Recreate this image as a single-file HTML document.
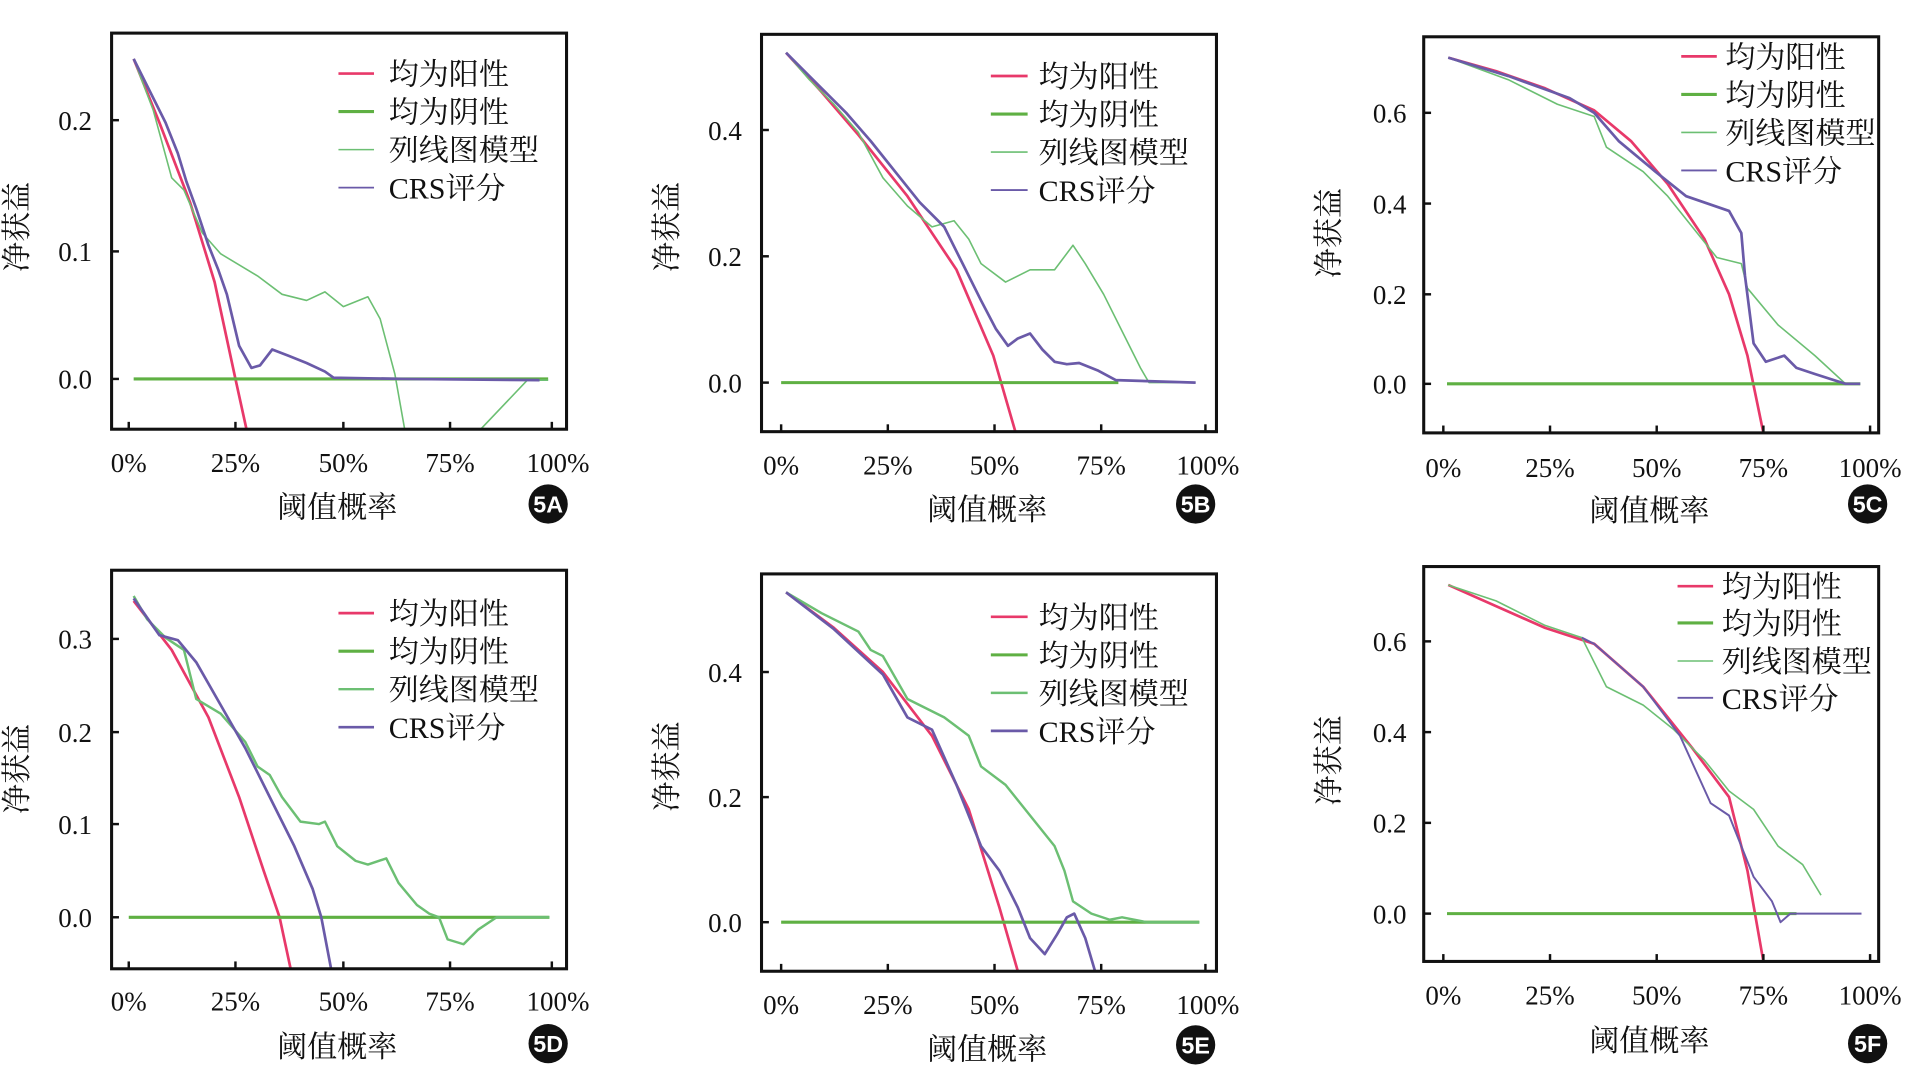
<!DOCTYPE html>
<html><head><meta charset="utf-8"><style>
html,body{margin:0;padding:0;background:#fff;}
svg{display:block;}
text{font-family:"Liberation Serif","Noto Serif CJK SC",serif;font-size:22px;fill:#111;}
.l{font-size:24.5px;}
.b{font-family:"Liberation Sans",sans-serif;font-size:19px;fill:#fff;font-weight:bold;}
.fr{fill:none;stroke:#111;stroke-width:2.5;}
.tk{stroke:#111;stroke-width:2;}
.r{fill:none;stroke:#e8396a;stroke-width:2.2;stroke-linejoin:round;}
.g{fill:none;stroke:#5fb043;stroke-width:2.5;}
.n{fill:none;stroke:#6cbf73;stroke-width:1.3;stroke-linejoin:round;}
.c{fill:none;stroke:#6a5aa8;stroke-width:2.2;stroke-linejoin:round;}
</style></head><body>
<svg width="1913" height="1081" viewBox="0 0 1560 881.5" preserveAspectRatio="none">
<defs>
<clipPath id="cA"><rect x="91" y="27" width="371" height="323"/></clipPath>
<clipPath id="cB"><rect x="621" y="28" width="371" height="324"/></clipPath>
<clipPath id="cC"><rect x="1161" y="30" width="371" height="323"/></clipPath>
<clipPath id="cD"><rect x="91" y="465" width="371" height="325"/></clipPath>
<clipPath id="cE"><rect x="621" y="468" width="371" height="324"/></clipPath>
<clipPath id="cF"><rect x="1161" y="462" width="371" height="322"/></clipPath>
</defs>

<!-- Panel A -->
<g clip-path="url(#cA)">
<polyline class="r" points="109,48 130,100 155,165 175,230 192,309 201,350"/>
<polyline class="g" points="109,309 447,309"/>
<polyline class="n" points="109,48 125,90 140,145 150,155 165,190 180,207 210,225 230,240 250,245 265,238 280,250 300,242 310,260 322,305 330,350"/>
<polyline class="n" points="392,350 430,310 447,310"/>
<polyline class="c" points="109,48 120,70 135,100 145,125 152,148 160,170 170,200 178,220 185,240 195,282 205,300 212,298 222,285 235,290 250,296 265,303 272,308 330,309 440,310"/>
</g>
<rect class="fr" x="91" y="27" width="371" height="323"/>
<g class="tk"><line x1="91" y1="98" x2="97" y2="98"/><line x1="91" y1="205" x2="97" y2="205"/><line x1="91" y1="309" x2="97" y2="309"/>
<line x1="105" y1="350" x2="105" y2="344"/><line x1="192" y1="350" x2="192" y2="344"/><line x1="280" y1="350" x2="280" y2="344"/><line x1="367" y1="350" x2="367" y2="344"/><line x1="450" y1="350" x2="450" y2="344"/></g>
<text x="75" y="106" text-anchor="end">0.2</text><text x="75" y="213" text-anchor="end">0.1</text><text x="75" y="317" text-anchor="end">0.0</text>
<text x="105" y="385" text-anchor="middle">0%</text><text x="192" y="385" text-anchor="middle">25%</text><text x="280" y="385" text-anchor="middle">50%</text><text x="367" y="385" text-anchor="middle">75%</text><text x="455" y="385" text-anchor="middle">100%</text>
<text class="l" x="275" y="422" text-anchor="middle">阈值概率</text>
<text class="l" transform="translate(22,185) rotate(-90)" text-anchor="middle">净获益</text>
<circle cx="447" cy="411" r="16" fill="#111"/><text class="b" x="447" y="418" text-anchor="middle">5A</text>
<line x1="276" y1="60" x2="305" y2="60" stroke="#e8396a" stroke-width="2.2"/><text class="l" x="317" y="69">均为阳性</text>
<line x1="276" y1="91" x2="305" y2="91" stroke="#5fb043" stroke-width="2.5"/><text class="l" x="317" y="100">均为阴性</text>
<line x1="276" y1="122" x2="305" y2="122" stroke="#6cbf73" stroke-width="1.3"/><text class="l" x="317" y="131">列线图模型</text>
<line x1="276" y1="153" x2="305" y2="153" stroke="#6a5aa8" stroke-width="1.5"/><text class="l" x="317" y="162">CRS评分</text>

<!-- Panel B -->
<g clip-path="url(#cB)">
<polyline class="r" points="641,43 670,75 700,110 740,160 780,220 810,290 828,352"/>
<polyline class="g" points="637,312 912,312"/>
<polyline class="n" points="641,43 660,65 680,85 700,108 720,145 740,168 760,185 778,180 790,195 800,215 820,230 840,220 860,220 875,200 885,215 900,240 915,270 930,300 937,312 975,312"/>
<polyline class="c" points="641,43 660,62 690,92 710,115 730,140 750,165 770,185 785,215 800,245 812,268 822,282 830,276 840,272 850,285 860,295 870,297 880,296 895,302 910,310 975,312"/>
</g>
<rect class="fr" x="621" y="28" width="371" height="324"/>
<g class="tk"><line x1="621" y1="106" x2="627" y2="106"/><line x1="621" y1="209" x2="627" y2="209"/><line x1="621" y1="312" x2="627" y2="312"/>
<line x1="637" y1="352" x2="637" y2="346"/><line x1="724" y1="352" x2="724" y2="346"/><line x1="811" y1="352" x2="811" y2="346"/><line x1="898" y1="352" x2="898" y2="346"/><line x1="983" y1="352" x2="983" y2="346"/></g>
<text x="605" y="114" text-anchor="end">0.4</text><text x="605" y="217" text-anchor="end">0.2</text><text x="605" y="320" text-anchor="end">0.0</text>
<text x="637" y="387" text-anchor="middle">0%</text><text x="724" y="387" text-anchor="middle">25%</text><text x="811" y="387" text-anchor="middle">50%</text><text x="898" y="387" text-anchor="middle">75%</text><text x="985" y="387" text-anchor="middle">100%</text>
<text class="l" x="805" y="424" text-anchor="middle">阈值概率</text>
<text class="l" transform="translate(552,185) rotate(-90)" text-anchor="middle">净获益</text>
<circle cx="975" cy="411" r="16" fill="#111"/><text class="b" x="975" y="418" text-anchor="middle">5B</text>
<line x1="808" y1="62" x2="838" y2="62" stroke="#e8396a" stroke-width="2.2"/><text class="l" x="847" y="71">均为阳性</text>
<line x1="808" y1="93" x2="838" y2="93" stroke="#5fb043" stroke-width="2.5"/><text class="l" x="847" y="102">均为阴性</text>
<line x1="808" y1="124" x2="838" y2="124" stroke="#6cbf73" stroke-width="1.3"/><text class="l" x="847" y="133">列线图模型</text>
<line x1="808" y1="155" x2="838" y2="155" stroke="#6a5aa8" stroke-width="1.5"/><text class="l" x="847" y="164">CRS评分</text>

<!-- Panel C -->
<g clip-path="url(#cC)">
<polyline class="r" points="1181,47 1220,58 1260,72 1300,90 1330,115 1360,150 1390,195 1410,240 1425,290 1438,353"/>
<polyline class="g" points="1180,313 1517,313"/>
<polyline class="n" points="1181,47 1230,65 1270,85 1300,95 1310,120 1340,140 1360,160 1380,185 1400,210 1420,215 1425,235 1450,265 1480,290 1505,313"/>
<polyline class="c" points="1181,47 1230,62 1280,80 1300,92 1320,115 1350,140 1375,160 1410,172 1420,190 1423,225 1430,280 1440,295 1455,290 1465,300 1480,305 1505,313 1517,313"/>
</g>
<rect class="fr" x="1161" y="30" width="371" height="323"/>
<g class="tk"><line x1="1161" y1="92" x2="1167" y2="92"/><line x1="1161" y1="166" x2="1167" y2="166"/><line x1="1161" y1="240" x2="1167" y2="240"/><line x1="1161" y1="313" x2="1167" y2="313"/>
<line x1="1177" y1="353" x2="1177" y2="347"/><line x1="1264" y1="353" x2="1264" y2="347"/><line x1="1351" y1="353" x2="1351" y2="347"/><line x1="1438" y1="353" x2="1438" y2="347"/><line x1="1525" y1="353" x2="1525" y2="347"/></g>
<text x="1147" y="100" text-anchor="end">0.6</text><text x="1147" y="174" text-anchor="end">0.4</text><text x="1147" y="248" text-anchor="end">0.2</text><text x="1147" y="321" text-anchor="end">0.0</text>
<text x="1177" y="389" text-anchor="middle">0%</text><text x="1264" y="389" text-anchor="middle">25%</text><text x="1351" y="389" text-anchor="middle">50%</text><text x="1438" y="389" text-anchor="middle">75%</text><text x="1525" y="389" text-anchor="middle">100%</text>
<text class="l" x="1345" y="425" text-anchor="middle">阈值概率</text>
<text class="l" transform="translate(1092,190) rotate(-90)" text-anchor="middle">净获益</text>
<circle cx="1523" cy="411" r="16" fill="#111"/><text class="b" x="1523" y="418" text-anchor="middle">5C</text>
<line x1="1371" y1="46" x2="1400" y2="46" stroke="#e8396a" stroke-width="2.2"/><text class="l" x="1407" y="55">均为阳性</text>
<line x1="1371" y1="77" x2="1400" y2="77" stroke="#5fb043" stroke-width="2.5"/><text class="l" x="1407" y="86">均为阴性</text>
<line x1="1371" y1="108" x2="1400" y2="108" stroke="#6cbf73" stroke-width="1.3"/><text class="l" x="1407" y="117">列线图模型</text>
<line x1="1371" y1="139" x2="1400" y2="139" stroke="#6a5aa8" stroke-width="1.5"/><text class="l" x="1407" y="148">CRS评分</text>

<!-- Panel D -->
<g clip-path="url(#cD)">
<polyline class="r" points="109,490 140,530 170,585 195,650 215,710 228,748 237,790"/>
<polyline class="g" points="105,748 448,748"/>
<polyline class="n" points="109,486 120,505 135,520 150,530 160,570 180,582 200,605 210,625 220,632 230,650 245,670 260,672 265,670 275,690 290,702 300,705 315,700 325,720 340,738 350,745 358,748 365,766 378,770 390,758 405,748 448,748" style="stroke-width:2"/>
<polyline class="c" points="109,488 130,518 145,522 160,540 180,575 200,610 220,650 240,690 255,725 262,748 270,790"/>
</g>
<rect class="fr" x="91" y="465" width="371" height="325"/>
<g class="tk"><line x1="91" y1="521" x2="97" y2="521"/><line x1="91" y1="597" x2="97" y2="597"/><line x1="91" y1="672" x2="97" y2="672"/><line x1="91" y1="748" x2="97" y2="748"/>
<line x1="105" y1="790" x2="105" y2="784"/><line x1="192" y1="790" x2="192" y2="784"/><line x1="280" y1="790" x2="280" y2="784"/><line x1="367" y1="790" x2="367" y2="784"/><line x1="450" y1="790" x2="450" y2="784"/></g>
<text x="75" y="529" text-anchor="end">0.3</text><text x="75" y="605" text-anchor="end">0.2</text><text x="75" y="680" text-anchor="end">0.1</text><text x="75" y="756" text-anchor="end">0.0</text>
<text x="105" y="824" text-anchor="middle">0%</text><text x="192" y="824" text-anchor="middle">25%</text><text x="280" y="824" text-anchor="middle">50%</text><text x="367" y="824" text-anchor="middle">75%</text><text x="455" y="824" text-anchor="middle">100%</text>
<text class="l" x="275" y="862" text-anchor="middle">阈值概率</text>
<text class="l" transform="translate(22,627) rotate(-90)" text-anchor="middle">净获益</text>
<circle cx="447" cy="851" r="16" fill="#111"/><text class="b" x="447" y="858" text-anchor="middle">5D</text>
<line x1="276" y1="500" x2="305" y2="500" stroke="#e8396a" stroke-width="2.2"/><text class="l" x="317" y="509">均为阳性</text>
<line x1="276" y1="531" x2="305" y2="531" stroke="#5fb043" stroke-width="2.5"/><text class="l" x="317" y="540">均为阴性</text>
<line x1="276" y1="562" x2="305" y2="562" stroke="#6cbf73" stroke-width="2"/><text class="l" x="317" y="571">列线图模型</text>
<line x1="276" y1="593" x2="305" y2="593" stroke="#6a5aa8" stroke-width="2.2"/><text class="l" x="317" y="602">CRS评分</text>

<!-- Panel E -->
<g clip-path="url(#cE)">
<polyline class="r" points="641,483 680,512 720,548 760,600 790,660 815,740 830,792"/>
<polyline class="g" points="637,752 978,752"/>
<polyline class="n" points="641,483 670,500 700,515 710,530 720,535 740,570 770,585 790,600 800,625 820,640 840,665 860,690 868,710 875,735 890,745 905,750 915,748 935,752 978,752" style="stroke-width:2"/>
<polyline class="c" points="641,483 680,513 720,550 740,585 760,595 780,640 800,690 815,710 830,740 840,765 852,778 862,762 870,748 876,745 885,765 893,792"/>
</g>
<rect class="fr" x="621" y="468" width="371" height="324"/>
<g class="tk"><line x1="621" y1="548" x2="627" y2="548"/><line x1="621" y1="650" x2="627" y2="650"/><line x1="621" y1="752" x2="627" y2="752"/>
<line x1="637" y1="792" x2="637" y2="786"/><line x1="724" y1="792" x2="724" y2="786"/><line x1="811" y1="792" x2="811" y2="786"/><line x1="898" y1="792" x2="898" y2="786"/><line x1="983" y1="792" x2="983" y2="786"/></g>
<text x="605" y="556" text-anchor="end">0.4</text><text x="605" y="658" text-anchor="end">0.2</text><text x="605" y="760" text-anchor="end">0.0</text>
<text x="637" y="827" text-anchor="middle">0%</text><text x="724" y="827" text-anchor="middle">25%</text><text x="811" y="827" text-anchor="middle">50%</text><text x="898" y="827" text-anchor="middle">75%</text><text x="985" y="827" text-anchor="middle">100%</text>
<text class="l" x="805" y="864" text-anchor="middle">阈值概率</text>
<text class="l" transform="translate(552,625) rotate(-90)" text-anchor="middle">净获益</text>
<circle cx="975" cy="852" r="16" fill="#111"/><text class="b" x="975" y="859" text-anchor="middle">5E</text>
<line x1="808" y1="503" x2="838" y2="503" stroke="#e8396a" stroke-width="2.2"/><text class="l" x="847" y="512">均为阳性</text>
<line x1="808" y1="534" x2="838" y2="534" stroke="#5fb043" stroke-width="2.5"/><text class="l" x="847" y="543">均为阴性</text>
<line x1="808" y1="565" x2="838" y2="565" stroke="#6cbf73" stroke-width="2"/><text class="l" x="847" y="574">列线图模型</text>
<line x1="808" y1="596" x2="838" y2="596" stroke="#6a5aa8" stroke-width="2.2"/><text class="l" x="847" y="605">CRS评分</text>

<!-- Panel F -->
<g clip-path="url(#cF)">
<polyline class="r" points="1181,477 1260,512 1300,525 1340,560 1380,610 1410,650 1425,710 1438,784"/>
<polyline class="g" points="1180,745 1465,745"/>
<polyline class="n" points="1181,477 1220,490 1260,510 1290,520 1300,540 1310,560 1340,575 1365,595 1390,620 1410,645 1430,660 1450,690 1470,705 1485,730"/>
<polyline class="c" points="1290,520 1300,525 1340,560 1370,600 1395,655 1410,665 1420,690 1430,715 1445,735 1452,752 1460,745 1518,745" style="stroke-width:1.6"/>
</g>
<rect class="fr" x="1161" y="462" width="371" height="322"/>
<g class="tk"><line x1="1161" y1="523" x2="1167" y2="523"/><line x1="1161" y1="597" x2="1167" y2="597"/><line x1="1161" y1="671" x2="1167" y2="671"/><line x1="1161" y1="745" x2="1167" y2="745"/>
<line x1="1177" y1="784" x2="1177" y2="778"/><line x1="1264" y1="784" x2="1264" y2="778"/><line x1="1351" y1="784" x2="1351" y2="778"/><line x1="1438" y1="784" x2="1438" y2="778"/><line x1="1525" y1="784" x2="1525" y2="778"/></g>
<text x="1147" y="531" text-anchor="end">0.6</text><text x="1147" y="605" text-anchor="end">0.4</text><text x="1147" y="679" text-anchor="end">0.2</text><text x="1147" y="753" text-anchor="end">0.0</text>
<text x="1177" y="819" text-anchor="middle">0%</text><text x="1264" y="819" text-anchor="middle">25%</text><text x="1351" y="819" text-anchor="middle">50%</text><text x="1438" y="819" text-anchor="middle">75%</text><text x="1525" y="819" text-anchor="middle">100%</text>
<text class="l" x="1345" y="857" text-anchor="middle">阈值概率</text>
<text class="l" transform="translate(1092,620) rotate(-90)" text-anchor="middle">净获益</text>
<circle cx="1523" cy="851" r="16" fill="#111"/><text class="b" x="1523" y="858" text-anchor="middle">5F</text>
<line x1="1368" y1="478" x2="1397" y2="478" stroke="#e8396a" stroke-width="2.2"/><text class="l" x="1404" y="487">均为阳性</text>
<line x1="1368" y1="508" x2="1397" y2="508" stroke="#5fb043" stroke-width="2.5"/><text class="l" x="1404" y="517">均为阴性</text>
<line x1="1368" y1="539" x2="1397" y2="539" stroke="#6cbf73" stroke-width="1.3"/><text class="l" x="1404" y="548">列线图模型</text>
<line x1="1368" y1="569" x2="1397" y2="569" stroke="#6a5aa8" stroke-width="1.5"/><text class="l" x="1404" y="578">CRS评分</text>
</svg>
</body></html>
